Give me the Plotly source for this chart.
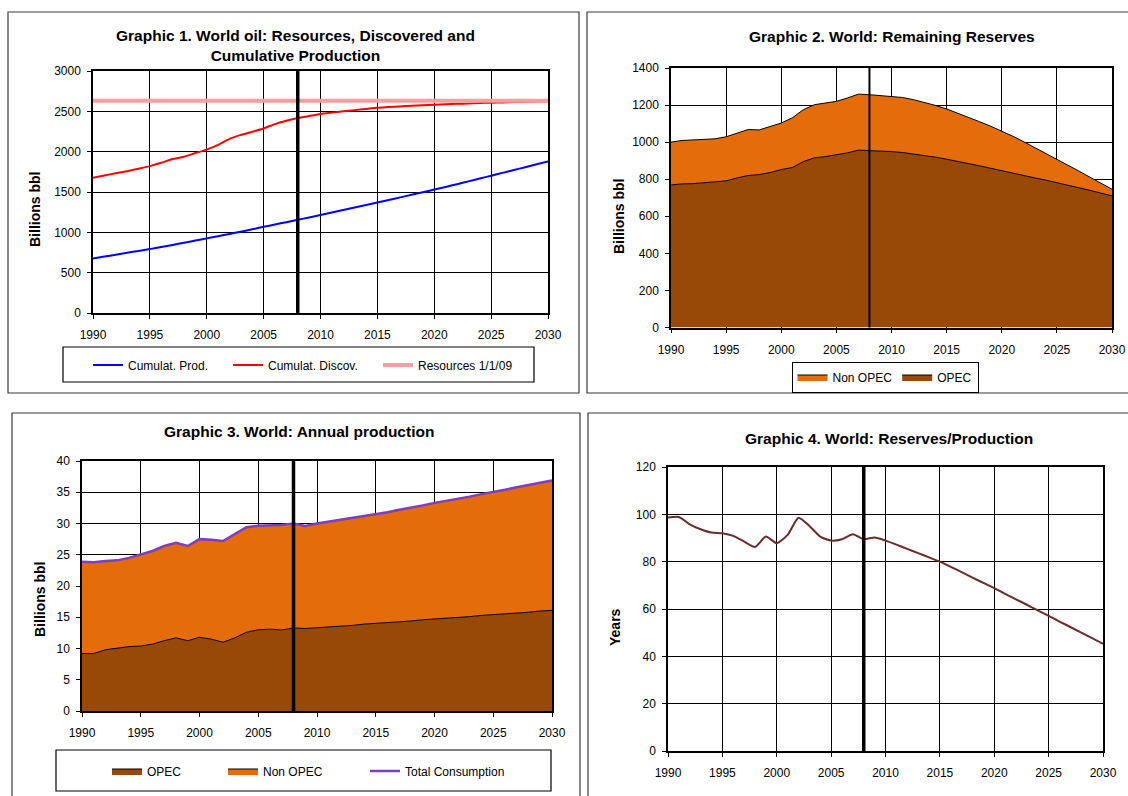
import plotly.graph_objects as go

W, H = 1128, 796

years = list(range(1990, 2031))

# Graphic 1: cumulative production / discoveries (billion bbl)
cum_prod = [675, 699, 722, 746, 770, 792, 818, 844, 871, 898, 925,
            952, 980, 1008, 1038, 1068, 1097, 1126, 1155, 1185, 1215,
            1245, 1276, 1307, 1338, 1370, 1401, 1433, 1465, 1497, 1530,
            1563, 1597, 1632, 1667, 1702, 1737, 1772, 1807, 1843, 1879]
cum_disc = [1675, 1704, 1733, 1758, 1787, 1821, 1862, 1908, 1937, 1983, 2025,
            2083, 2158, 2208, 2246, 2288, 2342, 2383, 2417, 2442, 2467,
            2484, 2500, 2515, 2530, 2543, 2553, 2561, 2569, 2576, 2583,
            2588, 2593, 2598, 2603, 2607, 2611, 2615, 2618, 2622, 2625]
resources_2009 = 2630

# Graphic 2: remaining reserves (billion bbl)
reserves_total = [1000, 1009, 1012, 1014, 1018, 1029, 1050, 1068, 1066, 1086, 1103,
                  1131, 1175, 1202, 1209, 1220, 1238, 1259, 1256, 1252, 1249,
                  1241, 1229, 1215, 1198, 1179, 1157, 1134, 1110, 1086, 1061,
                  1032, 1002, 971, 940, 908, 876, 844, 811, 779, 746]
reserves_opec = [769, 775, 776, 780, 784, 791, 807, 820, 825, 836, 852,
                 863, 895, 915, 922, 931, 942, 957, 955, 953, 949,
                 944, 937, 929, 919, 908, 897, 884, 872, 859, 845,
                 832, 820, 807, 795, 782, 768, 754, 740, 725, 710]

# Graphic 3: annual production (billion bbl)
total_consumption = [23.9, 23.8, 24.0, 24.1, 24.5, 25.0, 25.6, 26.4, 26.9, 26.4, 27.5,
                     27.4, 27.2, 28.3, 29.4, 29.65, 29.75, 29.75, 30.0, 29.6, 30.0,
                     30.3, 30.6, 30.9, 31.2, 31.4, 31.8, 32.2, 32.5, 32.9, 33.3,
                     33.6, 34.0, 34.3, 34.7, 35.0, 35.4, 35.8, 36.2, 36.5, 36.9]
production_opec = [9.2, 9.2, 9.8, 10.1, 10.3, 10.4, 10.7, 11.25, 11.7, 11.25, 11.8,
                   11.5, 11.0, 11.7, 12.6, 13.0, 13.1, 12.96, 13.3, 13.2, 13.3,
                   13.4, 13.6, 13.7, 13.9, 14.0, 14.1, 14.3, 14.4, 14.6, 14.7,
                   14.8, 15.0, 15.1, 15.3, 15.4, 15.5, 15.7, 15.8, 16.0, 16.1]

# Graphic 4: reserves / production ratio (years)
rp_years = [98.7, 98.9, 95.8, 93.7, 92.3, 92.0, 90.9, 88.5, 86.2, 90.6, 87.8,
            91.3, 98.6, 95.1, 90.6, 88.9, 89.5, 91.6, 89.5, 90.2, 88.9,
            87.2, 85.4, 83.6, 81.8, 80.0, 77.8, 75.6, 73.3, 71.0, 68.8,
            66.4, 64.1, 61.8, 59.4, 57.1, 54.7, 52.4, 50.0, 47.7, 45.3]

reserves_non_opec = [t - o for t, o in zip(reserves_total, reserves_opec)]
production_non_opec = [round(t - o, 2) for t, o in zip(total_consumption, production_opec)]

CUTOFF_YEAR = 2008
OPEC_COL = "#984807"
NONOPEC_COL = "#E46C0A"
FONT = "Arial, Liberation Sans, sans-serif"


def fx(px):
    return px / W


def fy(py):
    return 1 - py / H


fig = go.Figure()

# ---- Graphic 1
fig.add_trace(go.Scatter(x=years, y=cum_prod, name="Cumulat. Prod.", mode="lines",
                         line=dict(color="#0000FF", width=2, shape="spline", smoothing=0.6),
                         xaxis="x", yaxis="y", legend="legend"))
fig.add_trace(go.Scatter(x=years, y=cum_disc, name="Cumulat. Discov.", mode="lines",
                         line=dict(color="#FF0000", width=2, shape="spline", smoothing=0.6),
                         xaxis="x", yaxis="y", legend="legend2"))
fig.add_trace(go.Scatter(x=[years[0], years[-1]], y=[resources_2009, resources_2009],
                         name="Resources 1/1/09", mode="lines",
                         line=dict(color="#F5A0A0", width=4),
                         xaxis="x", yaxis="y", legend="legend3"))

# ---- Graphic 2
fig.add_trace(go.Scatter(x=years, y=reserves_opec, name="OPEC", mode="lines",
                         stackgroup="res", fillcolor=OPEC_COL,
                         line=dict(color="#000000", width=1),
                         xaxis="x2", yaxis="y2", legend="legend4"))
fig.add_trace(go.Scatter(x=years, y=reserves_non_opec, name="Non OPEC", mode="lines",
                         stackgroup="res", fillcolor=NONOPEC_COL,
                         line=dict(color="#000000", width=1),
                         xaxis="x2", yaxis="y2", legend="legend4"))

# ---- Graphic 3
fig.add_trace(go.Scatter(x=years, y=production_opec, name="OPEC", mode="lines",
                         stackgroup="prod", fillcolor=OPEC_COL,
                         line=dict(color="#000000", width=1),
                         xaxis="x3", yaxis="y3", legend="legend5"))
fig.add_trace(go.Scatter(x=years, y=production_non_opec, name="Non OPEC", mode="lines",
                         stackgroup="prod", fillcolor=NONOPEC_COL,
                         line=dict(color="#000000", width=1),
                         xaxis="x3", yaxis="y3", legend="legend6"))
fig.add_trace(go.Scatter(x=years, y=total_consumption, name="Total Consumption", mode="lines",
                         line=dict(color="#7B3FC0", width=2.5),
                         xaxis="x3", yaxis="y3", legend="legend7"))

# ---- Graphic 4
fig.add_trace(go.Scatter(x=years, y=rp_years, name="R/P", mode="lines", showlegend=False,
                         line=dict(color="#6E2A28", width=2, shape="spline", smoothing=0.6),
                         xaxis="x4", yaxis="y4"))

# plot-area rectangles in pixels: (left, top, right, bottom)
areas = {
    "": (93, 71, 548, 313),
    "2": (671, 68, 1112, 327.5),
    "3": (82, 461, 552, 711),
    "4": (668, 467, 1103, 751),
}
yranges = {"": (3000, 500), "2": (1400, 200), "3": (40, 5), "4": (120, 20)}

axis_font = dict(family=FONT, size=12, color="#000000")
for k, (l, t, r, b) in areas.items():
    ymax, dy = yranges[k]
    fig.update_layout(**{
        "xaxis" + k: dict(domain=[fx(l), fx(r)], anchor="y" + k, range=[1990, 2030],
                          dtick=5, tick0=1990, showgrid=True, gridcolor="#000000", gridwidth=1,
                          showline=True, linecolor="#000000", linewidth=1.5, mirror=True,
                          ticks="outside", ticklen=4, tickcolor="#000000",
                          ticklabelstandoff=6, tickfont=axis_font, zeroline=False,
                          automargin=False),
        "yaxis" + k: dict(domain=[fy(b), fy(t)], anchor="x" + k, range=[0, ymax],
                          dtick=dy, showgrid=True, gridcolor="#000000", gridwidth=1,
                          showline=True, linecolor="#000000", linewidth=1.5, mirror=True,
                          ticks="outside", ticklen=4, tickcolor="#000000",
                          ticklabelstandoff=4, tickfont=axis_font, zeroline=False,
                          automargin=False),
    })

shapes = []
# vertical marker at the last historical year
for k, wdt in (("", 3.5), ("2", 2), ("3", 3.5), ("4", 3.5)):
    shapes.append(dict(type="line", xref="x" + k, yref=("y" + k) + " domain",
                       x0=CUTOFF_YEAR, x1=CUTOFF_YEAR, y0=0, y1=1,
                       line=dict(color="#000000", width=wdt), layer="above"))

# panel frames
for (l, t, r, b) in ((8, 12, 579, 393), (587, 12, 1140, 393),
                     (12, 413, 580, 810), (588, 413, 1140, 810)):
    shapes.append(dict(type="rect", xref="paper", yref="paper",
                       x0=fx(l), x1=fx(r), y0=fy(b), y1=fy(t),
                       line=dict(color="#3A3A3A", width=1.2)))

# legend boxes
for (l, t, r, b) in ((63, 347, 534, 382), (56, 750, 551, 791)):
    shapes.append(dict(type="rect", xref="paper", yref="paper",
                       x0=fx(l), x1=fx(r), y0=fy(b), y1=fy(t),
                       line=dict(color="#000000", width=1.2), fillcolor="rgba(0,0,0,0)"))

annotations = []
titles = [
    (295, 46, "<b>Graphic 1. World oil: Resources, Discovered and<br>Cumulative Production</b>"),
    (892, 37, "<b>Graphic 2. World: Remaining Reserves</b>"),
    (299, 431, "<b>Graphic 3. World: Annual production</b>"),
    (889, 438, "<b>Graphic 4. World: Reserves/Production</b>"),
]
for x, y, txt in titles:
    annotations.append(dict(x=fx(x), y=fy(y), xref="paper", yref="paper", text=txt,
                            showarrow=False, xanchor="center", yanchor="middle",
                            font=dict(family=FONT, size=15.5, color="#000000")))

ytitles = [(35, 210, "Billions bbl"), (619, 217, "Billions bbl"),
           (40, 600, "Billions bbl"), (615, 627, "Years")]
for x, y, txt in ytitles:
    annotations.append(dict(x=fx(x), y=fy(y), xref="paper", yref="paper",
                            text="<b>" + txt + "</b>", textangle=-90, showarrow=False,
                            xanchor="center", yanchor="middle",
                            font=dict(family=FONT, size=14, color="#000000")))

leg_font = dict(family=FONT, size=12, color="#000000")


def item_legend(x_px, y_px):
    return dict(x=fx(x_px), y=fy(y_px), xanchor="left", yanchor="middle",
                bgcolor="rgba(0,0,0,0)", borderwidth=0, font=leg_font,
                orientation="h", itemclick=False, itemdoubleclick=False)


fig.update_layout(
    width=W, height=H,
    margin=dict(l=0, r=0, t=0, b=0, autoexpand=False),
    paper_bgcolor="#FFFFFF", plot_bgcolor="#FFFFFF",
    font=dict(family=FONT, size=12, color="#000000"),
    shapes=shapes, annotations=annotations,
    legend=item_legend(88, 365),
    legend2=item_legend(228, 365),
    legend3=item_legend(378, 365),
    legend4=dict(x=fx(885), y=fy(377), xanchor="center", yanchor="middle",
                 orientation="h", traceorder="reversed", bgcolor="#FFFFFF",
                 bordercolor="#000000", borderwidth=1, font=leg_font),
    legend5=item_legend(107, 771),
    legend6=item_legend(223, 771),
    legend7=item_legend(365, 771),
)

fig.write_html("out.html")
